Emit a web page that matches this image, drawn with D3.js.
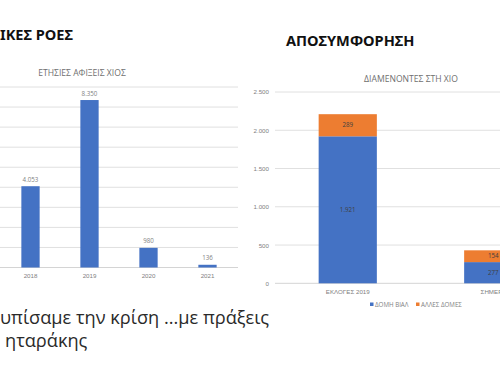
<!DOCTYPE html>
<html lang="el">
    <head>
        <meta charset="utf-8">
        <title>Ροές και αποσυμφόρηση</title>
        <script src="https://cdn.jsdelivr.net/npm/d3@7"></script>
        <style type="text/css">
            body { margin: 0; background: #fff; }
            svg { display: block; font-family: "Open Sans", "Noto Sans", sans-serif; }
            .small { fill: #7f7f7f; font-size: 6.2px; }
            .ctitle { fill: #6f6f6f; font-size: 8.6px; }
            .head { fill: #111; font-size: 14.6px; font-weight: bold; font-family: "Noto Sans", sans-serif; }
            .grid line { stroke: #e0e0e0; stroke-width: 1; }
            .caption { fill: #2a2a2a; font-size: 18.2px; }
        </style>
    </head>
    <body>
        <script type="text/javascript">

            // left chart: yearly arrivals
            var years = ["2018", "2019", "2020", "2021"];
            var arrivals = [4053, 8350, 980, 136];
            var arrivalTicks = [0, 1000, 2000, 3000, 4000, 5000, 6000, 7000, 8000, 9000];

            // right chart: residents, stacked
            var stayCats = ["ΕΚΛΟΓΕΣ 2019", "ΣΗΜΕΡΑ"];
            var vialValues = [1921, 277];
            var otherValues = [289, 154];
            var stayTicks = [0, 500, 1000, 1500, 2000, 2500];
            var seriesNames = ["ΔΟΜΗ ΒΙΑΛ", "ΑΛΛΕΣ ΔΟΜΕΣ"];

            var w = 500, h = 374;
            var blue = "#4472c4", orange = "#ed7d31";
            var fmt = d3.formatLocale({decimal: ",", thousands: ".", grouping: [3], currency: ["", "€"]}).format(",d");

            var svg = d3.select("body").append("svg")
                .attr("width", w)
                .attr("height", h);

            // ---- left chart ----
            var x1 = d3.scaleBand().domain(years).range([1, 237]).paddingInner(0.69).paddingOuter(0.345);
            var y1 = d3.scaleLinear().domain([0, 9000]).range([267.5, 87]);

            svg.append("g").attr("class", "grid")
                .selectAll("line").data(arrivalTicks.slice(1)).enter().append("line")
                .attr("x1", 0).attr("x2", 238)
                .attr("y1", function(d){ return y1(d); })
                .attr("y2", function(d){ return y1(d); });
            svg.append("line")
                .attr("x1", 0).attr("x2", 238)
                .attr("y1", y1(0)).attr("y2", y1(0))
                .attr("stroke", "#d4d4d4");

            svg.selectAll("rect.arr").data(arrivals).enter().append("rect")
                .attr("class", "arr")
                .attr("x", function(d, i){ return x1(years[i]); })
                .attr("y", function(d){ return y1(d); })
                .attr("width", x1.bandwidth())
                .attr("height", function(d){ return y1(0) - y1(d); })
                .attr("fill", blue);

            svg.selectAll("text.arrlab").data(arrivals).enter().append("text")
                .attr("class", "small")
                .attr("x", function(d, i){ return x1(years[i]) + x1.bandwidth() / 2; })
                .attr("y", function(d){ return y1(d) - 4.5; })
                .attr("text-anchor", "middle")
                .text(function(d){ return fmt(d); });

            svg.append("g")
                .attr("transform", "translate(0," + y1(0) + ")")
                .call(d3.axisBottom(x1).tickSize(0).tickPadding(6))
                .call(function(g){ g.select(".domain").remove(); })
                .selectAll("text").attr("class", "small").attr("fill", null).style("font-size", "6.2px");

            svg.append("text").attr("class", "ctitle")
                .attr("x", 82).attr("y", 75.8)
                .attr("text-anchor", "middle")
                .text("ΕΤΗΣΙΕΣ ΑΦΙΞΕΙΣ ΧΙΟΣ");

            svg.append("text").attr("class", "head")
                .attr("x", 0).attr("y", 40)
                .text("ΙΚΕΣ ΡΟΕΣ");

            // ---- right chart ----
            var x2 = d3.scaleBand().domain(stayCats).range([275, 566]).paddingInner(0.6).paddingOuter(0.3);
            var y2 = d3.scaleLinear().domain([0, 2500]).range([283.3, 92]);

            svg.append("g").attr("class", "grid")
                .selectAll("line").data(stayTicks.slice(1)).enter().append("line")
                .attr("x1", 275).attr("x2", w)
                .attr("y1", function(d){ return y2(d); })
                .attr("y2", function(d){ return y2(d); });
            svg.append("line")
                .attr("x1", 275).attr("x2", w)
                .attr("y1", y2(0)).attr("y2", y2(0))
                .attr("stroke", "#d4d4d4");

            svg.append("g")
                .attr("transform", "translate(269,0)")
                .call(d3.axisLeft(y2).tickValues(stayTicks).tickSize(0).tickPadding(0).tickFormat(fmt))
                .call(function(g){ g.select(".domain").remove(); })
                .selectAll("text").attr("class", "small").attr("fill", null).style("font-size", "6.2px");

            var stackData = stayCats.map(function(c, i){ return {cat: c, vial: vialValues[i], other: otherValues[i]}; });
            var stacked = d3.stack().keys(["vial", "other"])(stackData);
            var colors = [blue, orange];

            stacked.forEach(function(layer, k){
                svg.selectAll("rect.s" + k).data(layer).enter().append("rect")
                    .attr("class", "s" + k)
                    .attr("x", function(d){ return x2(d.data.cat); })
                    .attr("y", function(d){ return y2(d[1]); })
                    .attr("width", x2.bandwidth())
                    .attr("height", function(d){ return y2(d[0]) - y2(d[1]); })
                    .attr("fill", colors[k]);
                svg.selectAll("text.sl" + k).data(layer).enter().append("text")
                    .attr("class", "small")
                    .attr("x", function(d){ return x2(d.data.cat) + x2.bandwidth() / 2; })
                    .attr("y", function(d){ return (y2(d[0]) + y2(d[1])) / 2 + 2; })
                    .attr("text-anchor", "middle")
                    .style("fill", "#404040")
                    .text(function(d){ return fmt(d[1] - d[0]); });
            });

            svg.append("g")
                .attr("transform", "translate(0," + y2(0) + ")")
                .call(d3.axisBottom(x2).tickSize(0).tickPadding(6))
                .call(function(g){ g.select(".domain").remove(); })
                .selectAll("text").attr("class", "small").attr("fill", null).style("font-size", "6.2px");

            // legend
            var legX = [370, 416];
            seriesNames.forEach(function(n, i){
                svg.append("rect")
                    .attr("x", legX[i]).attr("y", 302.5)
                    .attr("width", 3.5).attr("height", 3.5)
                    .attr("fill", colors[i]);
                svg.append("text").attr("class", "small")
                    .attr("x", legX[i] + 5).attr("y", 306.5)
                    .text(n);
            });

            svg.append("text").attr("class", "ctitle")
                .attr("x", 411).attr("y", 82)
                .attr("text-anchor", "middle")
                .text("ΔΙΑΜΕΝΟΝΤΕΣ ΣΤΗ ΧΙΟ");

            svg.append("text").attr("class", "head")
                .attr("x", 286).attr("y", 45.5)
                .text("ΑΠΟΣΥΜΦΟΡΗΣΗ");

            // bottom caption
            svg.append("text").attr("class", "caption")
                .attr("x", 0).attr("y", 324)
                .text("υπίσαμε την κρίση ...με πράξεις");
            svg.append("text").attr("class", "caption")
                .attr("x", 5).attr("y", 347)
                .text("ηταράκης");

        </script>
    </body>
</html>
